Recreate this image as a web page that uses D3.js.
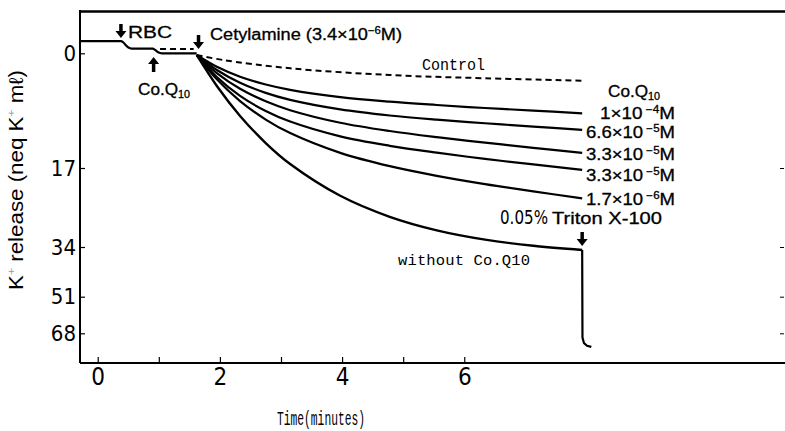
<!DOCTYPE html>
<html>
<head>
<meta charset="utf-8">
<script src="https://cdn.jsdelivr.net/npm/d3@7"></script>
<style>
  body { margin: 0; background: #fff; }
  .tick text { font-family: "Liberation Sans Narrow", "DejaVu Sans Condensed", sans-serif; fill: #000; }
  .lbl { font-family: "Liberation Sans", Arial, sans-serif; fill: #000; stroke: #000; stroke-width: 0.3; }
  .narrow { font-family: "Liberation Sans Narrow", "DejaVu Sans Condensed", sans-serif; fill: #000; }
  .mono { font-family: "Liberation Mono", "DejaVu Sans Mono", monospace; fill: #000; }
</style>
</head>
<body>
<div id="chart"></div>
<script>

// axis ticks
var xTicks = [0, 1, 2, 3, 4, 5, 6];
var yTicks = [0, 17, 34, 51, 68];

// trace before cetylamine (RBC added, then Co.Q10 added)
var preTimes  = [-0.29, 0.38, 0.42, 0.47, 0.53, 0.58, 0.90, 0.94, 0.99, 1.05, 1.62];
var preValues = [-1.8, -1.8, -1.6, -1.1, -0.75, -0.68, -0.68, -0.5, -0.15, 0, 0];

// control (dashed), before and after cetylamine
var controlPreTimes  = [1.02, 1.57];
var controlPreValues = [-0.65, -0.65];
var controlTimes  = [1.62, 2.05, 3.15, 4.78, 6.34, 7.93];
var controlValues = [0.25, 0.99, 2.22, 3.22, 3.70, 4.06];

// Co.Q10 traces after cetylamine (minutes, neq K+/ml)
var curveTimes = [1.62, 1.95, 2.33, 2.75, 3.15, 3.97, 4.78, 5.55, 6.34, 7.13, 7.93];
var coq1e4   = [0.25, 2.00, 3.47, 4.62, 5.41, 6.49, 7.17, 7.66, 8.11, 8.49, 8.89];
var coq66e5  = [0.25, 2.47, 4.36, 5.87, 6.91, 8.32, 9.22, 9.84, 10.37, 10.86, 11.35];
var coq33e5  = [0.25, 2.93, 5.26, 7.11, 8.43, 10.29, 11.52, 12.43, 13.24, 14.01, 14.75];
var coq33e5b = [0.25, 3.51, 6.31, 8.55, 10.12, 12.31, 13.71, 14.73, 15.65, 16.47, 17.41];
var coq17e6  = [0.25, 3.85, 7.08, 9.82, 11.83, 14.76, 16.73, 18.68, 20.46, 22.04, 23.52];

var coqMantissa = ["1", "6.6", "3.3", "3.3", "1.7"];
var coqExponent = ["\u22124", "\u22125", "\u22125", "\u22125", "\u22126"];

// without Co.Q10, then Triton X-100
var withoutValues = [0.25, 4.85, 9.28, 13.30, 16.41, 22.98, 27.50, 30.41, 32.41, 33.74, 35.03];
var tritonTimes  = [7.93, 7.935, 7.96, 8.01, 8.08];
var tritonValues = [35.03, 70.0, 72.6, 73.8, 74.3];


var margin = {top: 11, right: 0, bottom: 68, left: 80},
    width  = 785 - margin.left - margin.right,
    height = 431 - margin.top - margin.bottom;

var x = d3.scaleLinear()
          .domain([-0.29, 11.25])
          .range([0, width]);
// the recorder scale is not linear: piecewise between the printed ticks
var y = d3.scaleLinear()
          .domain(yTicks)
          .range([42.3, 157, 236, 285.7, 322.3]);

var svg = d3.select("#chart").append("svg")
    .attr("width", 785)
    .attr("height", 431);
var g = svg.append("g")
    .attr("transform", "translate(" + margin.left + "," + margin.top + ")");

// frame
g.append("line").attr("x1", 0).attr("x2", 0).attr("y1", -1).attr("y2", height)
  .attr("stroke", "#000").attr("stroke-width", 2);
g.append("line").attr("x1", 0).attr("x2", width).attr("y1", height).attr("y2", height)
  .attr("stroke", "#000").attr("stroke-width", 2);
g.append("line").attr("x1", 0).attr("x2", width).attr("y1", 0.5).attr("y2", 0.5)
  .attr("stroke", "#000").attr("stroke-width", 2.5);

// axes
var yAxis = g.append("g")
    .call(d3.axisLeft(y).tickValues(yTicks).tickSizeInner(-5).tickSizeOuter(0).tickPadding(4));
yAxis.select(".domain").remove();
yAxis.selectAll("text").style("font-size", "22px");
yAxis.selectAll("line").attr("stroke-width", 1.2);

var xAxis = g.append("g")
    .attr("transform", "translate(0," + height + ")")
    .call(d3.axisBottom(x).tickValues(xTicks).tickSizeInner(-6).tickSizeOuter(0).tickPadding(5)
      .tickFormat(function(d) { return d % 2 === 0 ? d : ""; }));
xAxis.select(".domain").remove();
xAxis.selectAll("text").style("font-size", "24px");
xAxis.selectAll("line").attr("stroke-width", 1.2);

var rAxis = g.append("g")
    .attr("transform", "translate(" + (width - 1) + ",0)")
    .call(d3.axisLeft(y).tickValues(yTicks.slice(1)).tickSize(4).tickFormat(""));
rAxis.select(".domain").remove();

// traces
var smooth = d3.line()
    .x(function(d) { return x(d[0]); })
    .y(function(d) { return y(d[1]); })
    .curve(d3.curveCatmullRom.alpha(0.5));
var step = d3.line()
    .x(function(d) { return x(d[0]); })
    .y(function(d) { return y(d[1]); })
    .curve(d3.curveMonotoneX);
var straight = d3.line()
    .x(function(d) { return x(d[0]); })
    .y(function(d) { return y(d[1]); });

function pairs(ts, vs) { return ts.map(function(t, i) { return [t, vs[i]]; }); }

g.append("path").datum(pairs(preTimes, preValues))
  .attr("d", step).attr("fill", "none").attr("stroke", "#000").attr("stroke-width", 2.2);

g.append("path").datum(pairs(controlPreTimes, controlPreValues))
  .attr("d", straight).attr("fill", "none").attr("stroke", "#000").attr("stroke-width", 2)
  .attr("stroke-dasharray", "6,4");
g.append("path").datum(pairs(controlTimes, controlValues))
  .attr("d", smooth).attr("fill", "none").attr("stroke", "#000").attr("stroke-width", 2)
  .attr("stroke-dasharray", "6,4");

var coqSeries = [coq1e4, coq66e5, coq33e5, coq33e5b, coq17e6];
coqSeries.forEach(function(vals) {
  g.append("path").datum(pairs(curveTimes, vals))
    .attr("d", smooth).attr("fill", "none").attr("stroke", "#000").attr("stroke-width", 2.2);
});

g.append("path").datum(pairs(curveTimes, withoutValues))
  .attr("d", smooth).attr("fill", "none").attr("stroke", "#000").attr("stroke-width", 2.4);
g.append("path").datum(pairs(tritonTimes, tritonValues))
  .attr("d", straight).attr("fill", "none").attr("stroke", "#000").attr("stroke-width", 2.2);

// arrows (tail y, tip y in page pixels)
function arrow(t, y0, y1) {
  var px = x(t) + margin.left, dir = y1 > y0 ? 1 : -1;
  svg.append("line").attr("x1", px).attr("x2", px).attr("y1", y0).attr("y2", y1 - dir * 5)
    .attr("stroke", "#000").attr("stroke-width", 3.5);
  svg.append("path")
    .attr("d", "M" + (px - 5.5) + "," + (y1 - dir * 7) + "L" + (px + 5.5) + "," + (y1 - dir * 7) + "L" + px + "," + y1 + "Z")
    .attr("fill", "#000");
}
arrow(0.38, 24, 38);
arrow(0.915, 72, 57);
arrow(1.65, 35, 49);
arrow(7.93, 232, 246);

// annotations
function sciLabel(xp, yp, mant, exp, len) {
  var t = svg.append("text").attr("class", "lbl").attr("x", xp).attr("y", yp)
    .style("font-size", "16px").attr("textLength", len).attr("lengthAdjust", "spacingAndGlyphs");
  t.append("tspan").text(mant + "\u00d710");
  t.append("tspan").attr("dy", -6).style("font-size", "10px").text(" " + exp);
  t.append("tspan").attr("dy", 6).text("M");
  return t;
}

svg.append("text").attr("class", "lbl").attr("x", 128).attr("y", 37.5)
  .style("font-size", "17px").attr("textLength", 44).attr("lengthAdjust", "spacingAndGlyphs").text("RBC");

var cet = svg.append("text").attr("class", "lbl").attr("x", 210).attr("y", 39.5)
  .style("font-size", "16px").attr("textLength", 192).attr("lengthAdjust", "spacingAndGlyphs");
cet.append("tspan").text("Cetylamine (3.4\u00d710");
cet.append("tspan").attr("dy", -6).style("font-size", "10px").text("\u22126");
cet.append("tspan").attr("dy", 6).text("M)");

function coqText(xp, yp, len) {
  var t = svg.append("text").attr("class", "lbl").attr("x", xp).attr("y", yp)
    .style("font-size", "16px").attr("textLength", len).attr("lengthAdjust", "spacingAndGlyphs");
  t.append("tspan").text("Co.Q");
  t.append("tspan").attr("dy", 3).style("font-size", "10px").text("10");
}
coqText(138, 95, 52);
coqText(608, 97, 52);

svg.append("text").attr("class", "mono").attr("x", 422).attr("y", 69.5)
  .style("font-size", "16px").attr("textLength", 63).attr("lengthAdjust", "spacingAndGlyphs").text("Control");

var labelX = [600, 586, 586, 586, 586];
var labelY = [118.5, 138, 159.5, 181, 205];
coqMantissa.forEach(function(m, i) {
  sciLabel(labelX[i], labelY[i], m, coqExponent[i], 675 - labelX[i]);
});

svg.append("text").attr("class", "narrow").attr("x", 500).attr("y", 224)
  .style("font-size", "20px").attr("textLength", 48).attr("lengthAdjust", "spacingAndGlyphs").text("0.05%");
svg.append("text").attr("class", "lbl").attr("x", 552).attr("y", 224)
  .style("font-size", "16.5px").attr("textLength", 110).attr("lengthAdjust", "spacingAndGlyphs").text("Triton X-100");

svg.append("text").attr("class", "mono").attr("x", 398).attr("y", 264.5)
  .style("font-size", "15.5px").attr("textLength", 132).text("without Co.Q10");

svg.append("text").attr("class", "mono").attr("x", 321).attr("y", 425)
  .attr("text-anchor", "middle")
  .style("font-size", "21px").attr("textLength", 88).attr("lengthAdjust", "spacingAndGlyphs")
  .text("Time(minutes)");

var yt = svg.append("text").attr("class", "lbl")
  .attr("transform", "translate(23,180) rotate(-90)")
  .attr("text-anchor", "middle").attr("stroke", "none").style("stroke-width", 0)
  .style("font-size", "20px").attr("textLength", 220).attr("lengthAdjust", "spacingAndGlyphs");
yt.append("tspan").text("K");
yt.append("tspan").attr("dy", -8).style("font-size", "11px").attr("fill", "#999").text("+");
yt.append("tspan").attr("dy", 8).text(" release (neq K");
yt.append("tspan").attr("dy", -8).style("font-size", "11px").attr("fill", "#999").text("+");
yt.append("tspan").attr("dy", 8).text(" m\u2113)");

</script>
</body>
</html>
